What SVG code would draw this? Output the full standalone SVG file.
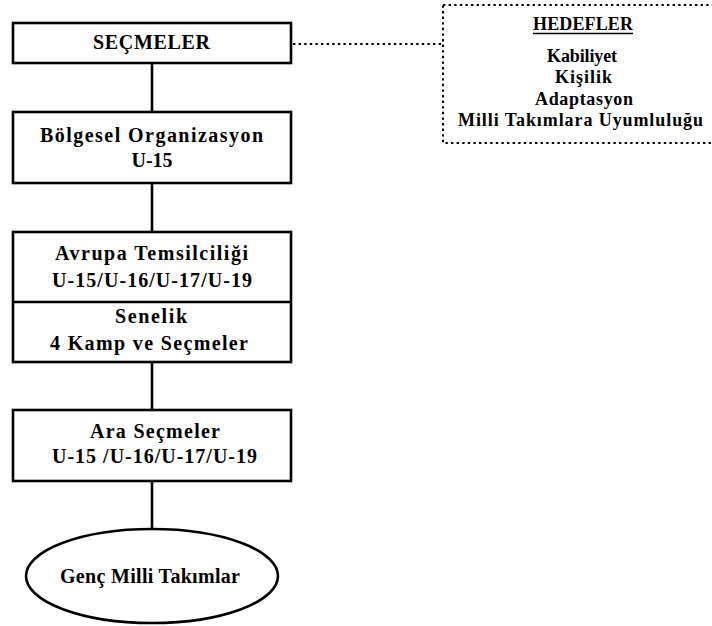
<svg xmlns="http://www.w3.org/2000/svg" width="712" height="626" viewBox="0 0 712 626">
  <style>
    .box { fill: #ffffff; stroke: #000000; stroke-width: 2.6; }
    .link { stroke: #000000; stroke-width: 2.6; fill: none; }
    .dots { stroke: #000000; stroke-width: 2; fill: none; stroke-dasharray: 2.4 3.2; }
    .t { font-family: "Liberation Serif", "Times New Roman", serif; font-weight: bold; font-size: 20px; fill: #000000; text-anchor: middle; }
    .s { font-size: 18px; }
  </style>
  <rect width="712" height="626" fill="#ffffff"/>

  <!-- connectors -->
  <g id="connectors">
    <line class="link" x1="152" y1="63" x2="152" y2="112"/>
    <line class="link" x1="152" y1="183" x2="152" y2="232"/>
    <line class="link" x1="152" y1="362" x2="152" y2="410"/>
    <line class="link" x1="152" y1="481" x2="152" y2="530"/>
    <line class="dots" x1="293" y1="44" x2="443" y2="44"/>
  </g>

  <g id="secmeler">
    <rect class="box" x="13" y="23" width="278" height="40"/>
    <text class="t" x="151.5" y="49" textLength="117" lengthAdjust="spacing">SEÇMELER</text>
  </g>

  <g id="bolgesel">
    <rect class="box" x="13" y="112" width="278" height="71"/>
    <text class="t" x="151.5" y="142" textLength="223" lengthAdjust="spacing">Bölgesel Organizasyon</text>
    <text class="t" x="152" y="167" textLength="41" lengthAdjust="spacing">U-15</text>
  </g>

  <g id="avrupa">
    <rect class="box" x="13" y="232" width="278" height="130"/>
    <line class="link" x1="13" y1="302" x2="291" y2="302"/>
    <text class="t" x="151.5" y="260" textLength="193" lengthAdjust="spacing">Avrupa Temsilciliği</text>
    <text class="t" x="152" y="287" textLength="200" lengthAdjust="spacing">U-15/U-16/U-17/U-19</text>
    <text class="t" x="151" y="323" textLength="72" lengthAdjust="spacing">Senelik</text>
    <text class="t" x="149" y="350" textLength="198" lengthAdjust="spacing">4 Kamp ve Seçmeler</text>
  </g>

  <g id="ara-secmeler">
    <rect class="box" x="13" y="410" width="278" height="71"/>
    <text class="t" x="155" y="438" textLength="130" lengthAdjust="spacing">Ara Seçmeler</text>
    <text class="t" x="154.5" y="463" textLength="205" lengthAdjust="spacing">U-15 /U-16/U-17/U-19</text>
  </g>

  <g id="genc-milli">
    <ellipse class="box" cx="152" cy="576" rx="126" ry="47"/>
    <text class="t" x="150" y="583" textLength="180" lengthAdjust="spacing">Genç Milli Takımlar</text>
  </g>

  <g id="hedefler">
    <rect class="dots" x="443" y="5" width="275" height="138"/>
    <text class="t s" x="583" y="30" textLength="100" lengthAdjust="spacing">HEDEFLER</text>
    <line x1="533" y1="33.5" x2="633" y2="33.5" stroke="#000000" stroke-width="1.6"/>
    <text class="t s" x="582" y="62" textLength="70" lengthAdjust="spacing">Kabiliyet</text>
    <text class="t s" x="583.5" y="83" textLength="57" lengthAdjust="spacing">Kişilik</text>
    <text class="t s" x="584" y="105" textLength="98" lengthAdjust="spacing">Adaptasyon</text>
    <text class="t s" x="580.5" y="126" textLength="245" lengthAdjust="spacing">Milli Takımlara Uyumluluğu</text>
  </g>
</svg>
